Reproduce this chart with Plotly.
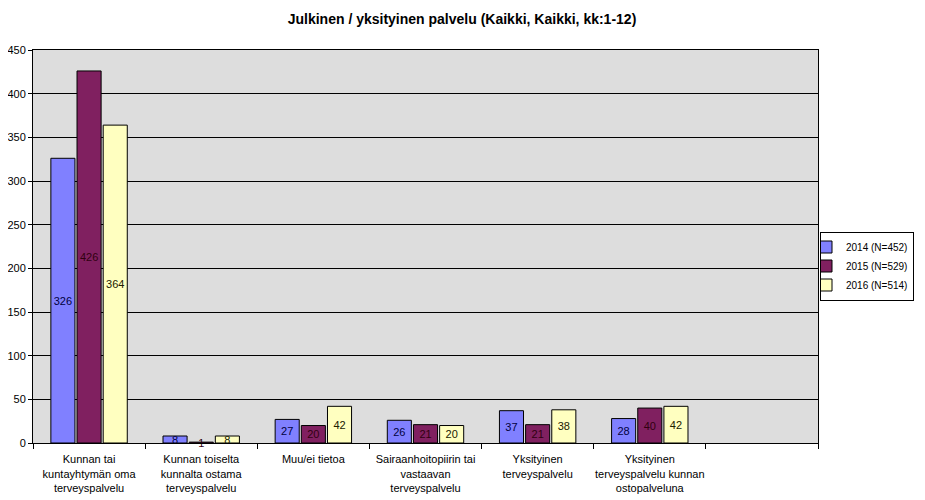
import plotly.graph_objects as go

categories = [
    "Kunnan tai<br>kuntayhtymän oma<br>terveyspalvelu",
    "Kunnan toiselta<br>kunnalta ostama<br>terveyspalvelu",
    "Muu/ei tietoa",
    "Sairaanhoitopiirin tai<br>vastaavan<br>terveyspalvelu",
    "Yksityinen<br>terveyspalvelu",
    "Yksityinen<br>terveyspalvelu kunnan<br>ostopalveluna",
    " ",
]
series_names = ["2014 (N=452)", "2015 (N=529)", "2016 (N=514)"]
values_2014 = [326, 8, 27, 26, 37, 28, None]
values_2015 = [426, 1, 20, 21, 21, 40, None]
values_2016 = [364, 8, 42, 20, 38, 42, None]
y_ticks = [0, 50, 100, 150, 200, 250, 300, 350, 400, 450]

colors = ["#8080FF", "#802060", "#FFFFC0"]
text_colors = ["#000040", "#300010", "#202000"]
font = "Liberation Sans, Arial, sans-serif"

fig = go.Figure()
for name, vals, c, tc in zip(series_names, [values_2014, values_2015, values_2016], colors, text_colors):
    fig.add_trace(go.Bar(
        x=categories, y=vals, name=name,
        marker=dict(color=c, line=dict(color="black", width=1)),
        text=[("" if v is None else str(v)) for v in vals],
        textposition="inside", insidetextanchor="middle",
        constraintext="none", textangle=0,
        textfont=dict(family=font, size=11, color=tc),
        cliponaxis=False,
    ))

fig.update_layout(
    width=917, height=492,
    margin=dict(l=25, r=107, t=42, b=57, autoexpand=False),
    paper_bgcolor="white", plot_bgcolor="#DDDDDD",
    barmode="group", bargap=0.3, bargroupgap=0.08,
    title=dict(text="<b>Julkinen / yksityinen palvelu (Kaikki, Kaikki, kk:1-12)</b>",
               x=(462 - 33) / 785, xanchor="center", xref="paper", y=1 - 11 / 492, yanchor="middle",
               yref="container",
               font=dict(family=font, size=14, color="black")),
    font=dict(family=font, size=11, color="black"),
    showlegend=True,
    legend=dict(x=(820 - 33) / 785, xanchor="left", y=(443 - 266) / 393, yanchor="middle",
                bordercolor="black", borderwidth=1, bgcolor="white",
                font=dict(family=font, size=10), itemwidth=30, indentation=-15),
    xaxis=dict(type="category", showline=True, linecolor="black", mirror=True,
               ticks="outside", tickson="boundaries", ticklen=5, tickcolor="black",
               tickangle=0, automargin=False, ticklabelstandoff=6,
               showgrid=False, tickfont=dict(family=font, size=11)),
    yaxis=dict(range=[0, 450], tickvals=y_ticks, showline=True, linecolor="black", mirror=True,
               ticks="outside", ticklen=4, tickcolor="black", automargin=False,
               showgrid=True, gridcolor="black", gridwidth=1, zeroline=False,
               tickfont=dict(family=font, size=11)),
)

fig.write_html("out.html")
